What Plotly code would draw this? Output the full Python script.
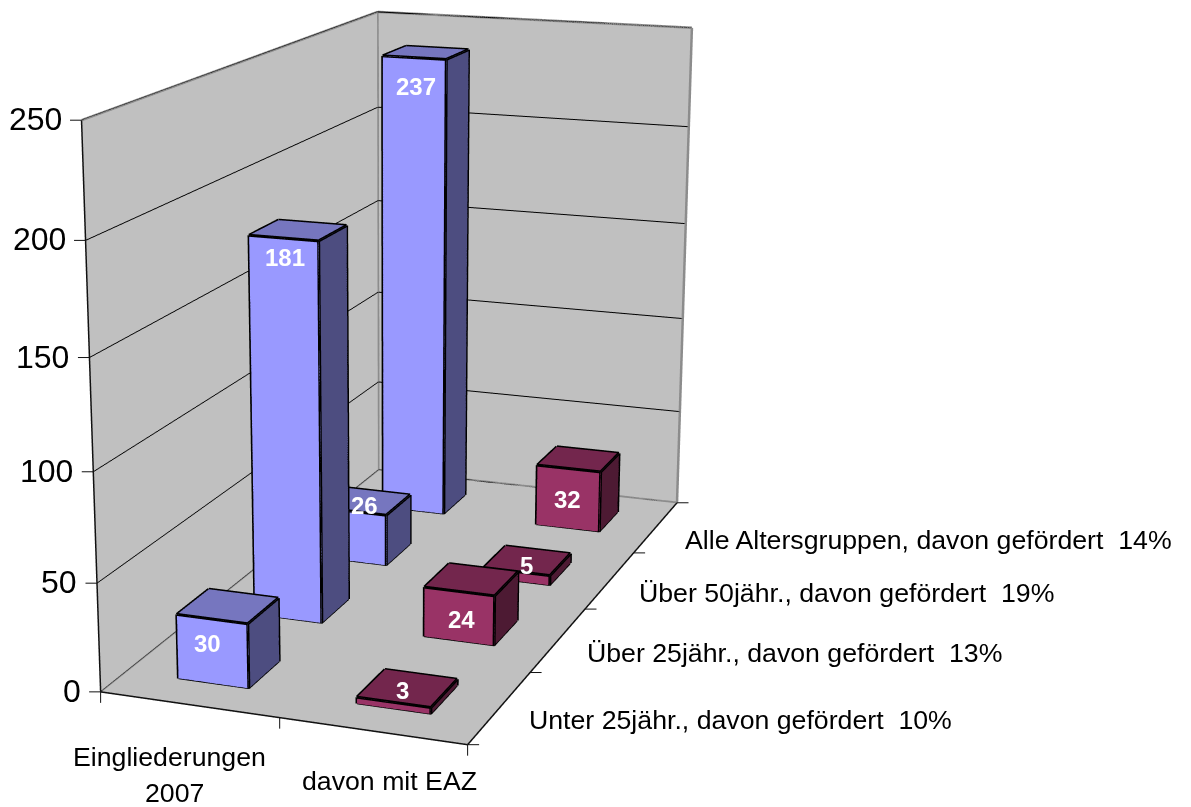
import plotly.graph_objects as go

# ---- data ----
categories = ["Eingliederungen<br>2007", "davon mit EAZ"]
groups = ["Unter 25jähr., davon gefördert\u00a0\u00a010%",
          "Über 25jähr., davon gefördert\u00a0\u00a013%",
          "Über 50jähr., davon gefördert\u00a0\u00a019%",
          "Alle Altersgruppen, davon gefördert\u00a0\u00a014%"]
eingliederungen = [30, 181, 26, 237]
davon_mit_eaz = [3, 24, 5, 32]
z_ticks = [0, 50, 100, 150, 200, 250]

# ---- styling / view ----
FONT = "Liberation Sans, Arial, sans-serif"
BLUE = ("#9999FF", "#7676BF", "#4D4D80")
MAROON = ("#993366", "#73264D", "#4D1A33")
WALL = "#C0C0C0"
BAR_LO, BAR_HI = 0.30, 0.70
FIG = 2250
PX, PY = 395, 438   # where the optical axis falls in the window
ASPECT = dict(x=0.690, y=1.412, z=1.027)
EYE = dict(x=1.7015, y=-4.753, z=1.308)
CENTER = dict(x=-0.0205, y=-0.069, z=-0.187)
ZMAX = 250
XMAX, YMAX = len(categories), len(groups)
# pixel nudges of the white value labels, per bar
SHIFT_A = [(-20, 37), (-13, 27), (-2, 4), (-10, 34)]
SHIFT_B = [(-5, 2), (-10, 40), (-1, 5), (-11, 40)]


def bar_traces(xi, values, colors, name):
    vx, vy, vz, I, J, K, fc = [], [], [], [], [], [], []
    lx, ly, lz = [], [], []
    for yi, val in enumerate(values):
        x0, x1 = xi + BAR_LO, xi + BAR_HI
        y0, y1 = yi + BAR_LO, yi + BAR_HI
        n = len(vx)
        corners = [(x0, y0, 0), (x1, y0, 0), (x1, y1, 0), (x0, y1, 0),
                   (x0, y0, val), (x1, y0, val), (x1, y1, val), (x0, y1, val)]
        for c in corners:
            vx.append(c[0]); vy.append(c[1]); vz.append(c[2])
        faces = [((0, 1, 5, 4), colors[0]), ((4, 5, 6, 7), colors[1]), ((1, 2, 6, 5), colors[2]),
                 ((3, 0, 4, 7), colors[2]), ((2, 3, 7, 6), colors[0]), ((0, 1, 2, 3), colors[1])]
        for q, col in faces:
            I += [n + q[0], n + q[0]]; J += [n + q[1], n + q[2]]; K += [n + q[2], n + q[3]]
            fc += [col, col]
        for a, b in [(0, 1), (1, 2), (2, 3), (3, 0), (4, 5), (5, 6), (6, 7), (7, 4), (0, 4), (1, 5), (2, 6), (3, 7)]:
            lx += [corners[a][0], corners[b][0], None]
            ly += [corners[a][1], corners[b][1], None]
            lz += [corners[a][2], corners[b][2], None]
    mesh = go.Mesh3d(x=vx, y=vy, z=vz, i=I, j=J, k=K, facecolor=fc, flatshading=True, name=name,
                     lighting=dict(ambient=1, diffuse=0, specular=0, roughness=1, fresnel=0),
                     hoverinfo="skip", showscale=False)
    edges = go.Scatter3d(x=lx, y=ly, z=lz, mode="lines", line=dict(color="black", width=6),
                         hoverinfo="skip", showlegend=False)
    return [mesh, edges]


def seg(points, color, width):
    xs, ys, zs = [], [], []
    for a, b in points:
        xs += [a[0], b[0], None]; ys += [a[1], b[1], None]; zs += [a[2], b[2], None]
    return go.Scatter3d(x=xs, y=ys, z=zs, mode="lines", line=dict(color=color, width=width),
                        hoverinfo="skip", showlegend=False)


traces = bar_traces(0, eingliederungen, BLUE, "Eingliederungen") + bar_traces(1, davon_mit_eaz, MAROON, "EAZ")

# wall outlines
traces.append(seg([((0, 0, ZMAX), (0, YMAX, ZMAX)), ((0, YMAX, ZMAX), (XMAX, YMAX, ZMAX)),
                   ((XMAX, YMAX, ZMAX), (XMAX, YMAX, 0)), ((0, YMAX, ZMAX), (0, YMAX, 0)),
                   ((0, 0, 0), (0, YMAX, 0)), ((0, YMAX, 0), (XMAX, YMAX, 0))], "#8C8C8C", 5))
# axis lines
traces.append(seg([((0, 0, 0), (0, 0, ZMAX)), ((0, 0, 0), (XMAX, 0, 0)), ((XMAX, 0, 0), (XMAX, YMAX, 0))],
                  "#111111", 3))


def note(x, y, z, text, size, color="black", bold=False, xanchor="center", yanchor="middle", dx=0, dy=0):
    return dict(x=x, y=y, z=z, text=f"<b>{text}</b>" if bold else text, showarrow=False,
                font=dict(family=FONT, size=size, color=color), xanchor=xanchor, yanchor=yanchor,
                xshift=dx, yshift=-dy, align="center")


def tick(x, y, z, ax, ay):
    return dict(x=x, y=y, z=z, text=" ", showarrow=True, ax=ax, ay=ay, arrowhead=0, arrowwidth=1,
                arrowcolor="#111111", standoff=0, startstandoff=0, font=dict(size=1))


ann = []
for t in z_ticks:
    ann.append(tick(0, 0, t, -13, 0))
    ann.append(note(0, 0, t, str(t), 32, xanchor="right", dx=-18, dy=-1))
for i in range(XMAX + 1):
    ann.append(tick(i, 0, 0, 0, 13))
for i in range(YMAX + 1):
    ann.append(tick(XMAX, i, 0, 13, 0))
for i, g in enumerate(groups):
    ann.append(note(XMAX, i + 0.5, 0, g, 26.7, xanchor="left", dx=27, dy=13))
cat_lines = categories[0].split("<br>")
ann.append(note(0.5, 0, 0, cat_lines[0], 26.7, dx=-20, dy=52))
ann.append(note(0.5, 0, 0, cat_lines[1], 26.7, dx=-15, dy=88))
ann.append(note(1.5, 0, 0, categories[1], 26.7, dx=17, dy=50))
for xi, (vals, shifts) in enumerate([(eingliederungen, SHIFT_A), (davon_mit_eaz, SHIFT_B)]):
    for yi, v in enumerate(vals):
        ann.append(note(xi + 0.5, yi + 0.5, v, str(v), 24, color="white", bold=True,
                        dx=shifts[yi][0], dy=shifts[yi][1]))

hidden = dict(showticklabels=False, showgrid=False, zeroline=False, showline=False, ticks="",
              title="", showspikes=False, showbackground=True, backgroundcolor=WALL)

fig = go.Figure(traces)
fig.update_layout(
    width=FIG, height=FIG, margin=dict(l=0, r=0, t=0, b=0), paper_bgcolor="white", showlegend=False,
    scene=dict(
        domain=dict(x=[0, 1], y=[0, 1]),
        aspectmode="manual", aspectratio=ASPECT,
        camera=dict(eye=EYE, center=CENTER, up=dict(x=0, y=0, z=1),
                    projection=dict(type="perspective")),
        xaxis=dict(hidden, range=[0, XMAX]),
        yaxis=dict(hidden, range=[0, YMAX]),
        zaxis=dict(hidden, range=[0, ZMAX], showgrid=True, gridcolor="black", gridwidth=2,
                   tickvals=z_ticks),
        annotations=ann,
    ),
)

post = f"""
var gd=document.getElementById('{{plot_id}}');
var w=gd.parentElement;
w.style.cssText='position:fixed;left:0;top:0;width:1191px;height:807px;overflow:hidden';
gd.style.position='absolute';
gd.style.left='{PX - FIG // 2}px';
gd.style.top='{PY - FIG // 2}px';
document.documentElement.style.overflow='hidden';
document.body.style.overflow='hidden';
"""
fig.write_html("out.html", post_script=post, config=dict(displayModeBar=False))
